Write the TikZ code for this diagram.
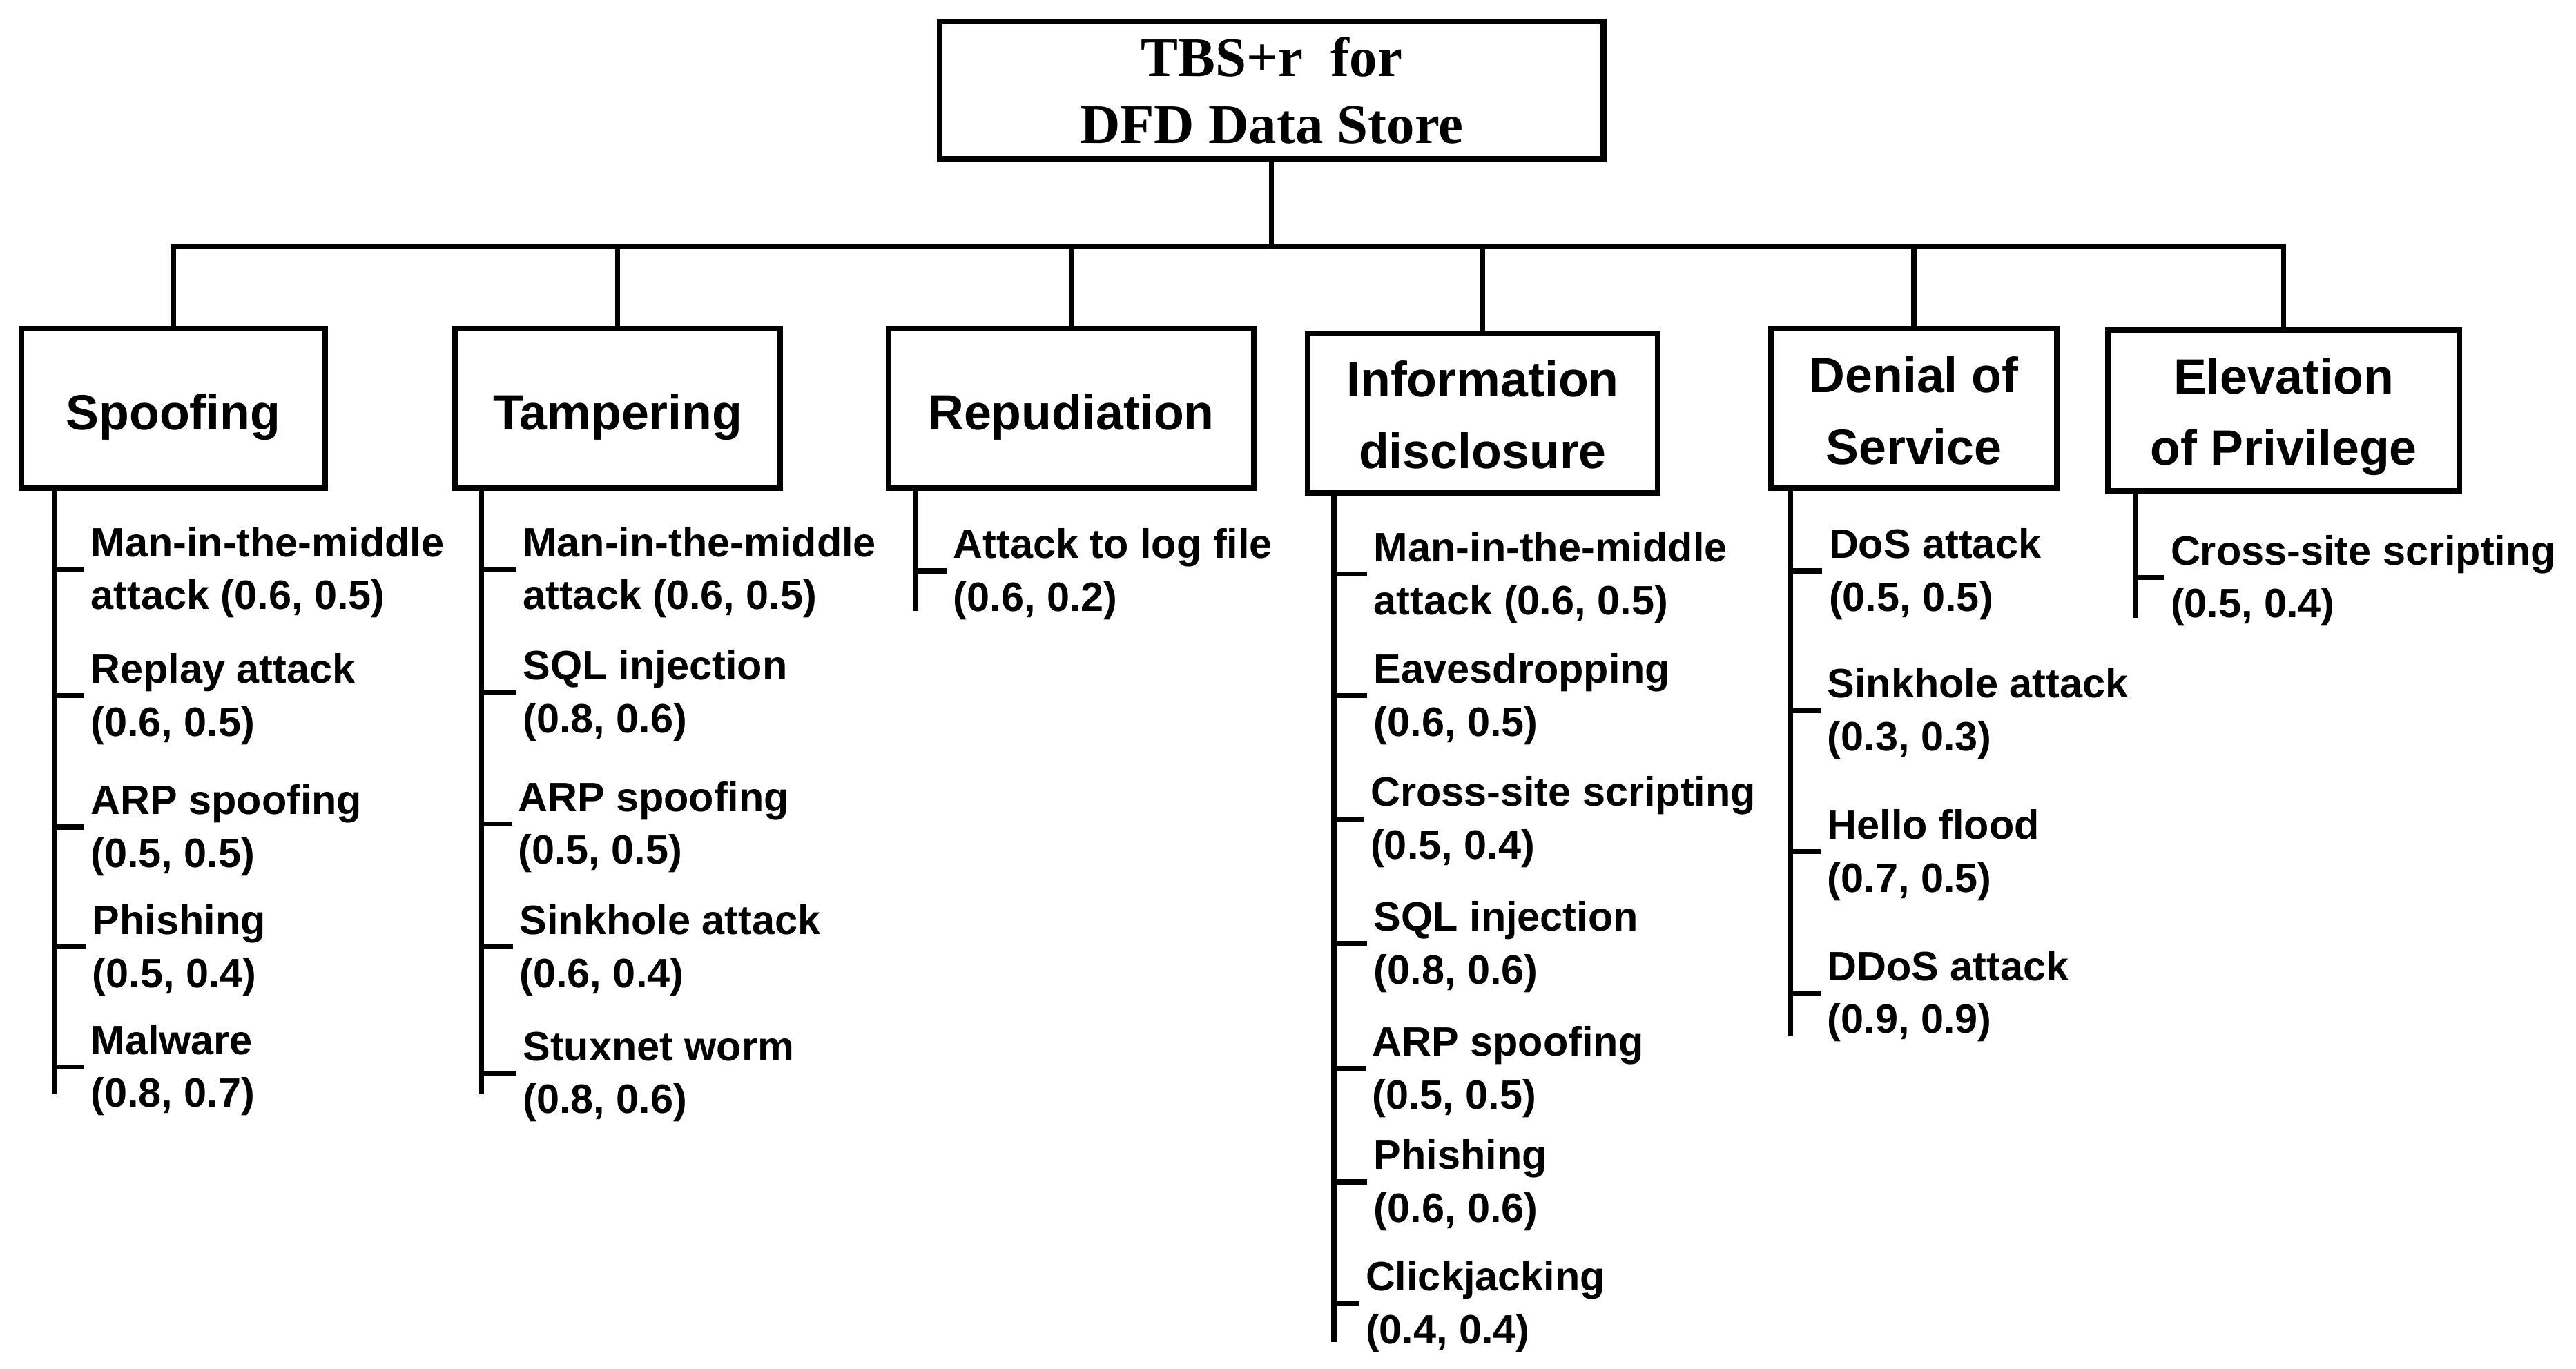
\documentclass[tikz,border=0pt]{standalone}
\usepackage{fontspec}
\setmainfont{Liberation Sans}
\newfontfamily\serifb{Liberation Serif}
\newcommand\lowtxt[2]{\raisebox{-#1}[\height][\depth]{\begin{tabular}{@{}c@{}}#2\end{tabular}}}
\begin{document}
\begin{tikzpicture}[x=0.023795cm,y=-0.023795cm,
  ln/.style={line width=2.1pt},
  cat/.style={draw,line width=2.3pt,inner sep=0pt,align=center,
    font=\fontsize{20.4pt}{29.5pt}\selectfont\bfseries},
  topbox/.style={draw,line width=2.5pt,inner sep=0pt,align=center,
    font=\fontsize{23pt}{27.5pt}\selectfont\serifb\bfseries},
  leaf/.style={anchor=west,align=left,inner xsep=0pt,inner ysep=0pt,
    font=\fontsize{16.9pt}{21.8pt}\selectfont\bfseries}]
\useasboundingbox (0,0) rectangle (1568,833);
\fill[white] (0,0) rectangle (1568,833);
% top
\node[topbox,minimum width=9.613cm,minimum height=1.999cm] (top) at (774,55) {TBS+r\ \ for\\DFD Data Store};
% categories
\node[cat,minimum width=4.402cm,minimum height=2.308cm] (sp) at (105.5,248.5) {\lowtxt{3pt}{Spoofing}};
\node[cat,minimum width=4.711cm,minimum height=2.308cm] (ta) at (376,248.5) {\lowtxt{3pt}{Tampering}};
\node[cat,minimum width=5.282cm,minimum height=2.308cm] (re) at (652,248.5) {\lowtxt{3pt}{Repudiation}};
\node[cat,minimum width=5.068cm,minimum height=2.308cm] (in) at (902.5,251.5) {\lowtxt{2pt}{Information\\disclosure}};
\node[cat,minimum width=4.140cm,minimum height=2.308cm] (de) at (1165,248.5) {\lowtxt{2.3pt}{Denial of\\Service}};
\node[cat,minimum width=5.092cm,minimum height=2.332cm] (ep) at (1390,250) {\lowtxt{1.8pt}{Elevation\\of Privilege}};
% tree bar
\coordinate (bar) at (0,150);
\draw[ln] (top.south) -- (top.south |- bar);
\draw[ln,line cap=rect] (sp.north |- bar) -- (ep.north |- bar);
\foreach \n in {sp,ta,re,in,de,ep} \draw[ln] (\n.north |- bar) -- (\n.north);
% Spoofing leaves
\coordinate (spv) at (33,297); \coordinate (spe) at (33,666);
\draw[ln] (spv) -- (spe);
\node[leaf] (sp1) at (55,348.5) {Man-in-the-middle\\attack (0.6, 0.5)};
\node[leaf] (sp2) at (55,425.5) {Replay attack\\(0.6, 0.5)};
\node[leaf] (sp3) at (55,505.5) {ARP spoofing\\(0.5, 0.5)};
\node[leaf] (sp4) at (56,578.5) {Phishing\\(0.5, 0.4)};
\node[leaf] (sp5) at (55,651.5) {Malware\\(0.8, 0.7)};
\foreach \n in {sp1,sp2,sp3,sp4,sp5} {
  \coordinate (t) at ([xshift=-0.09cm,yshift=1.35pt]\n.west);
  \draw[ln] (spv |- t) -- (t);}
% Tampering leaves
\coordinate (tav) at (293,297); \coordinate (tae) at (293,666);
\draw[ln] (tav) -- (tae);
\node[leaf] (ta1) at (318,348.5) {Man-in-the-middle\\attack (0.6, 0.5)};
\node[leaf] (ta2) at (318,423.5) {SQL injection\\(0.8, 0.6)};
\node[leaf] (ta3) at (315,503.5) {ARP spoofing\\(0.5, 0.5)};
\node[leaf] (ta4) at (316,578.5) {Sinkhole attack\\(0.6, 0.4)};
\node[leaf] (ta5) at (318,655.5) {Stuxnet worm\\(0.8, 0.6)};
\foreach \n in {ta1,ta2,ta3,ta4,ta5} {
  \coordinate (t) at ([xshift=-0.09cm,yshift=1.35pt]\n.west);
  \draw[ln] (tav |- t) -- (t);}
% Repudiation leaves
\coordinate (rev) at (557,297); \coordinate (ree) at (557,372);
\draw[ln] (rev) -- (ree);
\node[leaf] (re1) at (580,349.5) {Attack to log file\\(0.6, 0.2)};
\coordinate (t) at ([xshift=-0.09cm,yshift=1.35pt]re1.west);
\draw[ln] (rev |- t) -- (t);
% Information disclosure leaves
\coordinate (inv) at (812,300); \coordinate (ine) at (812,817);
\draw[ln] (inv) -- (ine);
\node[leaf] (in1) at (836,351.5) {Man-in-the-middle\\attack (0.6, 0.5)};
\node[leaf] (in2) at (836,425.5) {Eavesdropping\\(0.6, 0.5)};
\node[leaf] (in3) at (834,500.5) {Cross-site scripting\\(0.5, 0.4)};
\node[leaf] (in4) at (836,576.5) {SQL injection\\(0.8, 0.6)};
\node[leaf] (in5) at (835,652.5) {ARP spoofing\\(0.5, 0.5)};
\node[leaf] (in6) at (836,721.5) {Phishing\\(0.6, 0.6)};
\node[leaf] (in7) at (831,795.5) {Clickjacking\\(0.4, 0.4)};
\foreach \n in {in1,in2,in3,in4,in5,in6,in7} {
  \coordinate (t) at ([xshift=-0.09cm,yshift=1.35pt]\n.west);
  \draw[ln] (inv |- t) -- (t);}
% Denial of Service leaves
\coordinate (dev) at (1090,297); \coordinate (dee) at (1090,631);
\draw[ln] (dev) -- (dee);
\node[leaf] (de1) at (1113,349.5) {DoS attack\\(0.5, 0.5)};
\node[leaf] (de2) at (1112,434.5) {Sinkhole attack\\(0.3, 0.3)};
\node[leaf] (de3) at (1112,520.5) {Hello flood\\(0.7, 0.5)};
\node[leaf] (de4) at (1112,606.5) {DDoS attack\\(0.9, 0.9)};
\foreach \n in {de1,de2,de3,de4} {
  \coordinate (t) at ([xshift=-0.09cm,yshift=1.35pt]\n.west);
  \draw[ln] (dev |- t) -- (t);}
% Elevation of Privilege leaves
\coordinate (epv) at (1300,299); \coordinate (epe) at (1300,376);
\draw[ln] (epv) -- (epe);
\node[leaf] (ep1) at (1321,353.5) {Cross-site scripting\\(0.5, 0.4)};
\coordinate (t) at ([xshift=-0.09cm,yshift=1.35pt]ep1.west);
\draw[ln] (epv |- t) -- (t);
\end{tikzpicture}
\end{document}
